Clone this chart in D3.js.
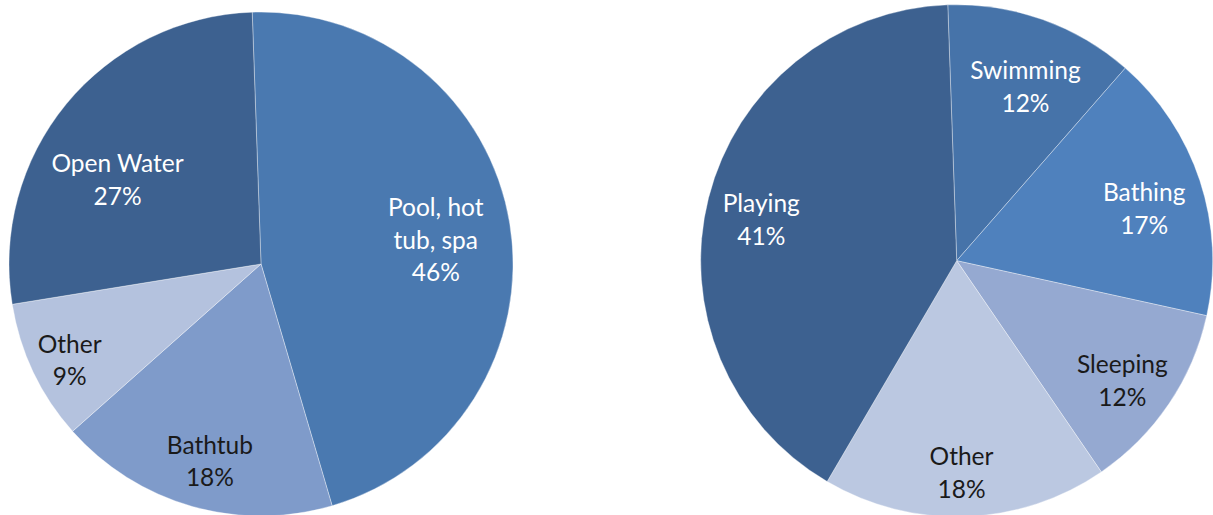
<!DOCTYPE html>
<html>
<head>
<meta charset="utf-8">
<script src="https://cdn.jsdelivr.net/npm/d3@7/dist/d3.min.js"></script>
<style>
  html, body { margin: 0; padding: 0; background: #ffffff; }
  svg { display: block; }
</style>
</head>
<body>
<svg id="chart" width="1213" height="515"></svg>
<script>
// Drowning location (left pie)
const locationCategories = ["Pool, hot tub, spa", "Bathtub", "Other", "Open Water"];
const locationValues = [46, 18, 9, 27];

// Activity at time of drowning (right pie)
const activityCategories = ["Swimming", "Bathing", "Sleeping", "Other", "Playing"];
const activityValues = [12, 17, 12, 18, 41];

// Label line breaks for each category
const labelLines = {
  "Pool, hot tub, spa": ["Pool, hot", "tub, spa"],
  "Open Water": ["Open Water"]
};

const svg = d3.select("#chart");
const startAngle = -2 * Math.PI / 180;

// Slice colours, dark text colour on the light slices
const locationColors = ["#4a79b0", "#7f9bca", "#b4c2de", "#3d6190"];
const locationText = ["#ffffff", "#1a1a1a", "#1a1a1a", "#ffffff"];
const activityColors = ["#4673a9", "#4f81bd", "#95a9d1", "#bbc8e1", "#3d6190"];
const activityText = ["#ffffff", "#ffffff", "#1a1a1a", "#1a1a1a", "#ffffff"];

// Per-slice label placement: radius fraction and angle nudge (degrees)
const locationLabelPos = [[0.70, 1.4], [0.81, -1.5], [0.85, -1.3], [0.66, -9]];
const activityLabelPos = [[0.73, 2], [0.76, 2.7], [0.80, 2], [0.83, 0.7], [0.78, -2.4]];

function drawPie(cx, cy, r, cats, vals, colors, textColors, labelPos) {
  const pie = d3.pie().sort(null).value(d => d.v)
    .startAngle(startAngle).endAngle(startAngle + 2 * Math.PI);
  const arc = d3.arc().innerRadius(0).outerRadius(r);
  const data = cats.map((c, i) => ({ c, v: vals[i], i }));
  const arcs = pie(data);
  const g = svg.append("g").attr("transform", `translate(${cx},${cy})`);

  g.selectAll("path.slice").data(arcs).enter().append("path")
    .attr("class", "slice")
    .attr("d", arc)
    .attr("fill", d => colors[d.data.i])
    .attr("stroke", "rgba(255,255,255,0.35)")
    .attr("stroke-width", 1);

  const lineH = 32.5;
  g.selectAll("text.lbl").data(arcs).enter().append("text")
    .attr("class", "lbl")
    .attr("text-anchor", "middle")
    .attr("font-family", "Lato, 'Open Sans', sans-serif")
    .attr("font-size", 24.5)
    .attr("fill", d => textColors[d.data.i])
    .each(function (d) {
      const [fr, nudge] = labelPos[d.data.i];
      const a = (d.startAngle + d.endAngle) / 2 + nudge * Math.PI / 180;
      const lr = r * fr;
      const x = Math.sin(a) * lr;
      const y = -Math.cos(a) * lr;
      const lines = (labelLines[d.data.c] || [d.data.c]).concat([d.data.v + "%"]);
      const top = y - (lines.length - 1) * lineH / 2;
      const t = d3.select(this);
      lines.forEach((s, k) => {
        t.append("tspan")
          .attr("x", x)
          .attr("y", top + k * lineH)
          .attr("dy", "0.35em")
          .text(s);
      });
    });
}

drawPie(261, 264, 252, locationCategories, locationValues, locationColors, locationText, locationLabelPos);
drawPie(956.7, 260.7, 256, activityCategories, activityValues, activityColors, activityText, activityLabelPos);
</script>
</body>
</html>
